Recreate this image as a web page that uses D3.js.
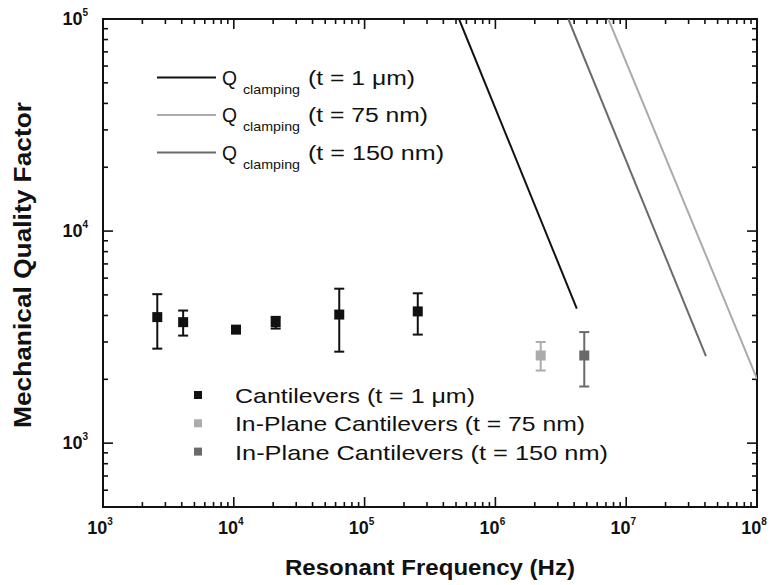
<!DOCTYPE html>
<html><head><meta charset="utf-8">
<script src="https://cdn.jsdelivr.net/npm/d3@7"></script>
<style>
body{margin:0;background:#fff;}
svg{display:block;font-family:"Liberation Sans",Arial,sans-serif;}
</style></head>
<body><svg id="c" width="771" height="585"></svg>
<script>
// ---- data ----
const cantFreq = [2600, 4100, 10400, 20900, 64000, 255000];
const cantQ    = [3930, 3720, 3430, 3720, 4040, 4180];
const cantLo   = [2790, 3215, 3320, 3470, 2700, 3250];
const cantHi   = [5040, 4220, 3550, 3940, 5350, 5090];

const ip75Freq = [2.22e6], ip75Q = [2590], ip75Lo = [2200], ip75Hi = [3000];
const ip150Freq = [4.78e6], ip150Q = [2590], ip150Lo = [1850], ip150Hi = [3340];

// clamping-loss lines: [freq, Q] endpoints
const clamp1um   = [[5.27e5, 1e5], [4.19e6, 4310]];
const clamp75nm  = [[7.3e6, 1e5], [1e8, 2010]];
const clamp150nm = [[3.61e6, 1e5], [4.07e7, 2570]];

const xTickExps = [3, 4, 5, 6, 7, 8];
const yTickExps = [3, 4, 5];

const lineLegend = ["(t = 1 \u03bcm)", "(t = 75 nm)", "(t = 150 nm)"];
const pointLegend = ["Cantilevers (t = 1 \u03bcm)", "In-Plane Cantilevers (t = 75 nm)", "In-Plane Cantilevers (t = 150 nm)"];

const BLACK = "#111111", LIGHT = "#ababab", DARK = "#6a6a6a";

// ---- layout ----
const svg = d3.select("#c");
const L = 103, R = 757, T = 19, B = 507;
const x = d3.scaleLog().domain([1e3, 1e8]).range([L, R]);
const y = d3.scaleLog().domain([500, 1e5]).range([B, T]);

svg.append("defs").append("clipPath").attr("id", "clip")
  .append("rect").attr("x", L).attr("y", T).attr("width", R - L).attr("height", B - T);

// ticks
const g = svg.append("g").attr("stroke", "#111").attr("stroke-width", 1.6);
const xt = [];
for (let e = 3; e < 8; e++) for (let m = 1; m < 10; m++) xt.push([m * Math.pow(10, e), m === 1]);
xt.push([1e8, true]);
xt.forEach(([v, maj]) => {
  const len = maj ? 10 : 5, px = x(v);
  g.append("line").attr("x1", px).attr("x2", px).attr("y1", B).attr("y2", B - len);
  g.append("line").attr("x1", px).attr("x2", px).attr("y1", T).attr("y2", T + len);
});
const yt = [];
for (let m = 5; m < 10; m++) yt.push([m * 100, false]);
for (let e = 3; e < 5; e++) for (let m = 1; m < 10; m++) yt.push([m * Math.pow(10, e), m === 1]);
yt.push([1e5, true]);
yt.forEach(([v, maj]) => {
  const len = maj ? 10 : 5, py = y(v);
  g.append("line").attr("y1", py).attr("y2", py).attr("x1", L).attr("x2", L + len);
  g.append("line").attr("y1", py).attr("y2", py).attr("x1", R).attr("x2", R - len);
});
// frame
svg.append("rect").attr("x", L).attr("y", T).attr("width", R - L).attr("height", B - T)
  .attr("fill", "none").attr("stroke", "#111").attr("stroke-width", 2);

// tick labels
xTickExps.forEach(e => {
  const t = svg.append("text").attr("x", x(Math.pow(10, e)) - 3).attr("y", 534)
    .attr("text-anchor", "middle").attr("font-weight", "bold").attr("font-size", 18).attr("fill", "#111");
  t.append("tspan").text("10");
  t.append("tspan").attr("font-size", 10).attr("dy", -9).text(e);
});
yTickExps.forEach(e => {
  const t = svg.append("text").attr("x", 88).attr("y", y(Math.pow(10, e)) + 6)
    .attr("text-anchor", "end").attr("font-weight", "bold").attr("font-size", 18).attr("fill", "#111");
  t.append("tspan").text("10");
  t.append("tspan").attr("font-size", 10).attr("dy", -9).text(e);
});

// axis titles
svg.append("text").attr("x", 285).attr("y", 575)
  .attr("textLength", 290).attr("lengthAdjust", "spacingAndGlyphs")
  .attr("font-weight", "bold").attr("font-size", 22).attr("fill", "#111").text("Resonant Frequency (Hz)");
svg.append("text").attr("transform", "translate(31,428) rotate(-90)")
  .attr("textLength", 326).attr("lengthAdjust", "spacingAndGlyphs")
  .attr("font-weight", "bold").attr("font-size", 23).attr("fill", "#111").text("Mechanical Quality Factor");

// clamping lines
const line = d3.line().x(d => x(d[0])).y(d => y(d[1]));
const lg = svg.append("g").attr("clip-path", "url(#clip)").attr("fill", "none").attr("stroke-width", 2);
[[clamp1um, BLACK], [clamp75nm, LIGHT], [clamp150nm, DARK]].forEach(([d, c]) => {
  lg.append("path").attr("d", line(d)).attr("stroke", c);
});

// data with error bars
function series(fr, q, lo, hi, color) {
  const s = svg.append("g");
  fr.forEach((f, i) => {
    const px = x(f);
    s.append("line").attr("x1", px).attr("x2", px).attr("y1", y(lo[i])).attr("y2", y(hi[i]))
      .attr("stroke", color).attr("stroke-width", 2);
    [lo[i], hi[i]].forEach(v => s.append("line").attr("x1", px - 5).attr("x2", px + 5)
      .attr("y1", y(v)).attr("y2", y(v)).attr("stroke", color).attr("stroke-width", 2));
    s.append("rect").attr("x", px - 5).attr("y", y(q[i]) - 5).attr("width", 10).attr("height", 10).attr("fill", color);
  });
}
series(cantFreq, cantQ, cantLo, cantHi, BLACK);
series(ip75Freq, ip75Q, ip75Lo, ip75Hi, LIGHT);
series(ip150Freq, ip150Q, ip150Lo, ip150Hi, DARK);

// legend 1 (lines)
const leg1Colors = [BLACK, LIGHT, DARK];
const leg1Widths = [107, 120, 136];
lineLegend.forEach((lab, i) => {
  const yy = 77.5 + i * 37.5;
  svg.append("line").attr("x1", 157).attr("x2", 216).attr("y1", yy).attr("y2", yy)
    .attr("stroke", leg1Colors[i]).attr("stroke-width", 2);
  svg.append("text").attr("x", 222).attr("y", yy + 7).attr("font-size", 20)
    .attr("textLength", 15).attr("lengthAdjust", "spacingAndGlyphs").attr("fill", "#111").text("Q");
  svg.append("text").attr("x", 243).attr("y", yy + 16).attr("font-size", 13)
    .attr("textLength", 57).attr("lengthAdjust", "spacingAndGlyphs").attr("fill", "#111").text("clamping");
  svg.append("text").attr("x", 308).attr("y", yy + 7).attr("font-size", 20)
    .attr("textLength", leg1Widths[i]).attr("lengthAdjust", "spacingAndGlyphs").attr("fill", "#111").text(lab);
});

// legend 2 (markers)
const leg2Colors = [BLACK, LIGHT, DARK];
const leg2Widths = [240, 350, 373];
pointLegend.forEach((lab, i) => {
  const yy = 395 + i * 28.3;
  svg.append("rect").attr("x", 194).attr("y", yy - 4).attr("width", 8).attr("height", 8).attr("fill", leg2Colors[i]);
  svg.append("text").attr("x", 235).attr("y", yy + 8).attr("font-size", 21)
    .attr("textLength", leg2Widths[i]).attr("lengthAdjust", "spacingAndGlyphs").attr("fill", "#111").text(lab);
});
</script></body></html>
